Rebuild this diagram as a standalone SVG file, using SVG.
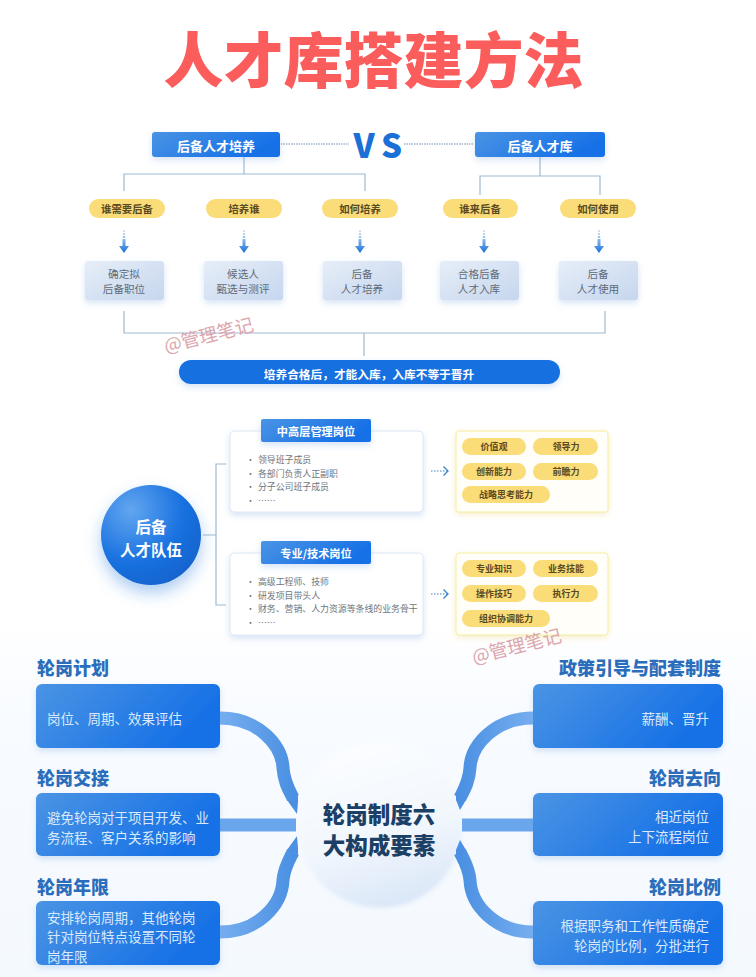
<svg xmlns="http://www.w3.org/2000/svg" width="756" height="977" viewBox="0 0 756 977">
<defs>
<linearGradient id="blue" x1="0" y1="0" x2="1" y2="0.35"><stop offset="0" stop-color="#4a94e4"/><stop offset="1" stop-color="#1670e6"/></linearGradient>
<linearGradient id="pale" x1="0" y1="0" x2="1" y2="1"><stop offset="0" stop-color="#e6eef8"/><stop offset="1" stop-color="#c6d6ee"/></linearGradient>
<linearGradient id="arrowFade" x1="0" y1="0" x2="0" y2="1"><stop offset="0" stop-color="#d6e6f8"/><stop offset="0.45" stop-color="#7fb2ea"/><stop offset="1" stop-color="#1a6fd6"/></linearGradient>
<linearGradient id="bgBottom" x1="0" y1="0" x2="0" y2="1"><stop offset="0" stop-color="#ffffff"/><stop offset="0.25" stop-color="#f8fbff"/><stop offset="1" stop-color="#f4f9fe"/></linearGradient>
<linearGradient id="bandL" x1="0" y1="0" x2="1" y2="0"><stop offset="0" stop-color="#76aeef"/><stop offset="1" stop-color="#4b90e2"/></linearGradient>
<linearGradient id="bandR" x1="1" y1="0" x2="0" y2="0"><stop offset="0" stop-color="#76aeef"/><stop offset="1" stop-color="#4b90e2"/></linearGradient>
<radialGradient id="ball" cx="0.3" cy="0.25" r="0.85"><stop offset="0" stop-color="#62a6f0"/><stop offset="0.6" stop-color="#1a72e0"/><stop offset="1" stop-color="#1262cc"/></radialGradient>
<linearGradient id="hub" x1="0.35" y1="0" x2="0.65" y2="1"><stop offset="0" stop-color="#fbfdff"/><stop offset="0.55" stop-color="#f2f7fd"/><stop offset="1" stop-color="#d9e6f7"/></linearGradient>
<filter id="sh" x="-20%" y="-30%" width="140%" height="170%"><feDropShadow dx="0" dy="3" stdDeviation="3" flood-color="#5d95d8" flood-opacity="0.26"/></filter>
<filter id="shBig" x="-30%" y="-30%" width="160%" height="170%"><feDropShadow dx="0" dy="8" stdDeviation="8" flood-color="#2f7fe0" flood-opacity="0.4"/></filter>
<filter id="shY" x="-10%" y="-15%" width="120%" height="140%"><feDropShadow dx="0" dy="2" stdDeviation="3" flood-color="#ecd98a" flood-opacity="0.45"/></filter>
<filter id="soft" x="-5%" y="-5%" width="110%" height="110%"><feGaussianBlur stdDeviation="2"/></filter>
<marker id="dot-arrow" markerWidth="8" markerHeight="10" refX="6" refY="5" orient="auto" markerUnits="userSpaceOnUse"><path d="M1.500 0.500 L6 5 L1.500 9.500" fill="none" stroke="#3b82c8" stroke-width="1.300"/></marker>
<path id="ar" fill="url(#arrowFade)" d="M-1 230h2v2h-2zM-1 233h2v2h-2zM-1.200 236h2.400v2h-2.400zM-1.500 239h3v7h3.500l-5 7-5-7h3.500z"/>
</defs>
<style>
text{font-family:"Noto Sans CJK SC","Liberation Sans",sans-serif;dominant-baseline:central}
.m{text-anchor:middle}
.e{text-anchor:end}
.line{fill:none;stroke:#9db9d2;stroke-width:1.200}
.btn{fill:url(#blue);filter:url(#sh)}
.wt{fill:#fff;font-weight:700;font-size:13px}
.pill{fill:#fadc78}
.pt{fill:#5a4a22;font-weight:700;font-size:10.400px}
.box{fill:url(#pale);filter:url(#sh)}
.bt{fill:#5f6b78;font-size:10.600px}
.card{fill:#fff;stroke:#dde8f4;filter:url(#sh)}
.ch{fill:#fff;font-weight:700;font-size:11.200px}
.li{fill:#6d7680;font-size:8.900px}
.ycard{fill:#fffef8;stroke:#f5eea0;filter:url(#shY)}
.yp{fill:#5a4a22;font-weight:700;font-size:9px}
.big{fill:url(#blue);filter:url(#sh)}
.h{fill:#2a6dbb;font-weight:900;font-size:18px}
.d{fill:#d9e9fb;font-size:13.500px}
.wm{fill:#dca6ae;font-size:18.500px}
.band{fill:none;stroke-width:13}
</style>
<rect width="756" height="977" fill="#fff"/>
<rect y="625" width="756" height="352" fill="url(#bgBottom)"/>

<g id="title"><text x="373.500" y="56.500" class="m" font-size="60" font-weight="900" fill="#fb5c5c">人才库搭建方法</text></g>

<g id="connectors">
<path class="line" d="M244 157V174M124 191V174H365V191"/>
<path class="line" d="M540 157V176M480 195V176H600V195"/>
<path class="line" d="M124 311V333H605V311M364 333V356"/>
<path d="M281 144H349M404 144H473" stroke="#b9c6d6" stroke-width="2" stroke-dasharray="1.500 1" fill="none"/>
<use href="#ar" x="124"/><use href="#ar" x="244"/><use href="#ar" x="360"/><use href="#ar" x="484"/><use href="#ar" x="599"/>
<path class="line" d="M203 535H216M226 464H216V605H226"/>
<g fill="none" stroke="#3b82c8" stroke-width="1.100" marker-end="url(#dot-arrow)" stroke-dasharray="1.500 1.500">
<path d="M431 471H448"/><path d="M431 594H448"/>
</g>
</g>

<g id="n-hub"><circle cx="380" cy="825" r="83" fill="url(#hub)" filter="url(#soft)"/><text class="m" x="379" y="813" fill="#1c3f66" font-weight="900" font-size="22.500">轮岗制度六</text><text class="m" x="379" y="844" fill="#1c3f66" font-weight="900" font-size="22.500">大构成要素</text></g>

<g id="connectors-hub">
<path class="band" stroke="url(#bandL)" d="M220 718C258 718 282 745 283 768C284 782 289 790 293 798"/>
<path class="band" stroke="#6aa6ec" d="M220 825H296"/>
<path class="band" stroke="url(#bandL)" d="M220 932C258 932 282 905 283 880C284 868 289 860 293 852"/>
<path class="band" stroke="url(#bandR)" d="M533 718C495 718 471 745 470 768C469 782 464 790 460 798"/>
<path class="band" stroke="#6aa6ec" d="M533 825H462"/>
<path class="band" stroke="url(#bandR)" d="M533 932C495 932 471 905 470 880C469 868 464 860 460 852"/>
<g fill="#4b90e2">
<path d="M287 800L298 795V802L297 814z"/>
<path d="M287 850L298 855V848L297 836z"/>
<path d="M466 800L456 793V800L460 810z"/>
<path d="M466 850L456 857V850L460 840z"/>
</g>
</g>

<g id="vs"><text x="364" y="144" class="m" font-size="33" font-weight="900" fill="#1b70d8">V</text><text x="391.500" y="144" class="m" font-size="33" font-weight="900" fill="#1b70d8">S</text></g>
<g id="n-peiyang"><rect class="btn" x="152" y="132" width="128" height="25" rx="3"/><text class="wt m" x="216" y="145">后备人才培养</text></g>
<g id="n-ku"><rect class="btn" x="475" y="132" width="130" height="25" rx="3"/><text class="wt m" x="540" y="145">后备人才库</text></g>

<g id="pill-1"><rect class="pill" x="89" y="199" width="76" height="19" rx="9.500"/><text class="pt m" x="127" y="208.500">谁需要后备</text></g>
<g id="pill-2"><rect class="pill" x="206" y="199" width="76" height="19" rx="9.500"/><text class="pt m" x="244" y="208.500">培养谁</text></g>
<g id="pill-3"><rect class="pill" x="322" y="199" width="76" height="19" rx="9.500"/><text class="pt m" x="360" y="208.500">如何培养</text></g>
<g id="pill-4"><rect class="pill" x="443" y="199" width="75" height="19" rx="9.500"/><text class="pt m" x="480" y="208.500">谁来后备</text></g>
<g id="pill-5"><rect class="pill" x="560" y="199" width="76" height="19" rx="9.500"/><text class="pt m" x="598" y="208.500">如何使用</text></g>

<g id="box-1"><rect class="box" x="85" y="261" width="79" height="39" rx="3"/><text class="bt m" x="124" y="273.500">确定拟</text><text class="bt m" x="124" y="288.500">后备职位</text></g>
<g id="box-2"><rect class="box" x="204" y="261" width="79" height="39" rx="3"/><text class="bt m" x="243" y="273.500">候选人</text><text class="bt m" x="243" y="288.500">甄选与测评</text></g>
<g id="box-3"><rect class="box" x="323" y="261" width="79" height="39" rx="3"/><text class="bt m" x="362" y="273.500">后备</text><text class="bt m" x="362" y="288.500">人才培养</text></g>
<g id="box-4"><rect class="box" x="440" y="261" width="79" height="39" rx="3"/><text class="bt m" x="479" y="273.500">合格后备</text><text class="bt m" x="479" y="288.500">人才入库</text></g>
<g id="box-5"><rect class="box" x="559" y="261" width="79" height="39" rx="3"/><text class="bt m" x="598" y="273.500">后备</text><text class="bt m" x="598" y="288.500">人才使用</text></g>

<g id="banner"><rect x="179" y="360" width="381" height="24" rx="12" fill="#1670e0" filter="url(#sh)"/><text class="m" x="369" y="373" fill="#fff" font-weight="700" font-size="11.700">培养合格后，才能入库，入库不等于晋升</text></g>

<g id="n-team"><circle cx="151" cy="535" r="50" fill="url(#ball)" filter="url(#shBig)"/><text class="m" x="151" y="526" fill="#fff" font-weight="700" font-size="15.500">后备</text><text class="m" x="151" y="549" fill="#fff" font-weight="700" font-size="15.500">人才队伍</text></g>

<g id="card-1"><rect class="card" x="230" y="431" width="193" height="81" rx="4"/><rect class="btn" x="261" y="419" width="110" height="23" rx="2"/><text class="ch m" x="316" y="430.500">中高层管理岗位</text>
<g class="li"><text x="246" y="459">•</text><text x="258" y="459">领导班子成员</text><text x="246" y="473">•</text><text x="258" y="473">各部门负责人正副职</text><text x="246" y="486.500">•</text><text x="258" y="486.500">分子公司班子成员</text><text x="246" y="500">•</text><text x="258" y="500">……</text></g></g>
<g id="card-2"><rect class="card" x="230" y="553" width="193" height="82" rx="4"/><rect class="btn" x="261" y="541" width="110" height="23" rx="2"/><text class="ch m" x="316" y="552.500">专业/技术岗位</text>
<g class="li"><text x="246" y="581.500">•</text><text x="258" y="581.500">高级工程师、技师</text><text x="246" y="595">•</text><text x="258" y="595">研发项目带头人</text><text x="246" y="608">•</text><text x="258" y="608">财务、营销、人力资源等条线的业务骨干</text><text x="246" y="622">•</text><text x="258" y="622">……</text></g></g>

<g id="ycard-1"><rect class="ycard" x="456" y="431" width="152" height="81" rx="3"/>
<rect class="pill" x="462" y="438" width="64" height="17" rx="8.500"/><text class="yp m" x="494" y="446">价值观</text>
<rect class="pill" x="533" y="438" width="65" height="17" rx="8.500"/><text class="yp m" x="566" y="446">领导力</text>
<rect class="pill" x="462" y="463" width="64" height="17" rx="8.500"/><text class="yp m" x="494" y="471">创新能力</text>
<rect class="pill" x="533" y="463" width="65" height="17" rx="8.500"/><text class="yp m" x="566" y="471">前瞻力</text>
<rect class="pill" x="462" y="486" width="88" height="17" rx="8.500"/><text class="yp m" x="506" y="494.500">战略思考能力</text></g>
<g id="ycard-2"><rect class="ycard" x="456" y="553" width="152" height="82" rx="3"/>
<rect class="pill" x="462" y="560" width="64" height="17" rx="8.500"/><text class="yp m" x="494" y="568.500">专业知识</text>
<rect class="pill" x="533" y="560" width="65" height="17" rx="8.500"/><text class="yp m" x="566" y="568.500">业务技能</text>
<rect class="pill" x="462" y="585" width="64" height="17" rx="8.500"/><text class="yp m" x="494" y="593.500">操作技巧</text>
<rect class="pill" x="533" y="585" width="65" height="17" rx="8.500"/><text class="yp m" x="566" y="593.500">执行力</text>
<rect class="pill" x="462" y="610" width="88" height="17" rx="8.500"/><text class="yp m" x="506" y="618.500">组织协调能力</text></g>

<g id="n-plan"><text class="h" x="37" y="667">轮岗计划</text><rect class="big" x="36" y="684" width="184" height="64" rx="6"/><text class="d" x="47" y="718">岗位、周期、效果评估</text></g>
<g id="n-handover"><text class="h" x="37" y="777">轮岗交接</text><rect class="big" x="36" y="793" width="184" height="63" rx="6"/><text class="d" x="47" y="817">避免轮岗对于项目开发、业</text><text class="d" x="47" y="837">务流程、客户关系的影响</text></g>
<g id="n-years"><text class="h" x="37" y="886">轮岗年限</text><rect class="big" x="36" y="901" width="184" height="64" rx="6"/><text class="d" x="47" y="917">安排轮岗周期，其他轮岗</text><text class="d" x="47" y="936">针对岗位特点设置不同轮</text><text class="d" x="47" y="956">岗年限</text></g>
<g id="n-policy"><text class="h e" x="721" y="667">政策引导与配套制度</text><rect class="big" x="533" y="684" width="190" height="64" rx="6"/><text class="d e" x="709" y="718">薪酬、晋升</text></g>
<g id="n-dest"><text class="h e" x="721" y="777">轮岗去向</text><rect class="big" x="533" y="793" width="190" height="63" rx="6"/><text class="d e" x="709" y="816">相近岗位</text><text class="d e" x="709" y="836">上下流程岗位</text></g>
<g id="n-ratio"><text class="h e" x="721" y="886">轮岗比例</text><rect class="big" x="533" y="901" width="190" height="64" rx="6"/><text class="d e" x="709" y="925">根据职务和工作性质确定</text><text class="d e" x="709" y="945">轮岗的比例，分批进行</text></g>

<g id="watermarks"><text class="wm" transform="translate(164 345) rotate(-14)">@管理笔记</text><text class="wm" transform="translate(472 656) rotate(-14)">@管理笔记</text></g>
</svg>
